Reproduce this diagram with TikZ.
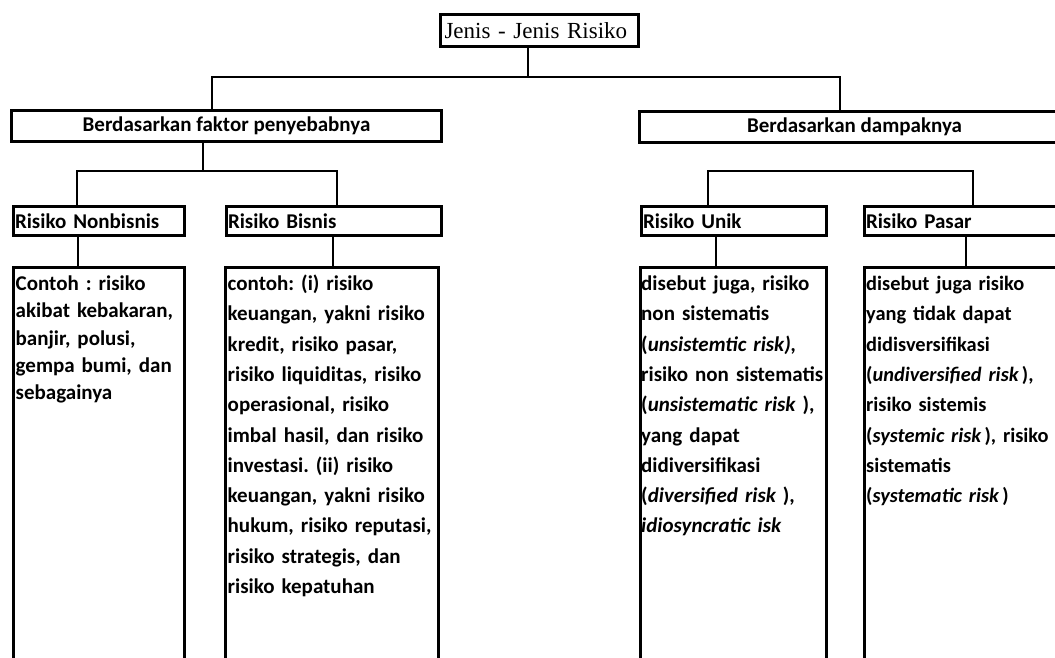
\documentclass[tikz,border=0pt]{standalone}
\usepackage{fontspec}
\setmainfont{Carlito}
\newfontfamily\titlefont{Liberation Serif}
\frenchspacing

\tikzset{
  box/.style={draw, line width=3pt, rectangle, anchor=north west, inner sep=0pt},
  titlebox/.style={box, font=\titlefont\fontsize{23}{26}\selectfont, text width=190, align=left, inner xsep=4pt, minimum height=32},
  groupbox/.style={box, font=\bfseries\fontsize{21}{24}\selectfont, minimum width=430, minimum height=31},
  headbox/.style={box, font=\bfseries\fontsize{21}{24}\selectfont, align=left, inner xsep=1.5pt, minimum height=29},
  notebox/.style={box, minimum height=440},
  note/.style={anchor=base west, inner sep=0pt, text width=240, align=left, font=\bfseries\fontsize{21}{30.3}\selectfont},
  link/.style={line width=2pt},
}
\newcommand{\en}[1]{{\itshape #1}}

\begin{document}
\begin{tikzpicture}[x=1pt,y=-1pt]
\useasboundingbox (0,0) rectangle (1055,657);
\clip (0,0) rectangle (1055,657);
\fill[white] (0,0) rectangle (1055,657);

% top
\node[titlebox] (root) at (439,13) {Jenis - Jenis Risiko};
\node[groupbox] (faktor) at (10,109) {Berdasarkan faktor penyebabnya};
\node[groupbox] (dampak) at (638,110) {Berdasarkan dampaknya};

% jenis risiko
\node[headbox, text width=168] (nonbisnis) at (12,205) {Risiko Nonbisnis};
\node[headbox, text width=212] (bisnis) at (225,205) {Risiko Bisnis};
\node[headbox, text width=182] (unik) at (640,205) {Risiko Unik};
\node[headbox, text width=212] (pasar) at (863,205) {Risiko Pasar};

% keterangan
\node[notebox, minimum width=171] (nbbox) at (12,266) {};
\node[notebox, minimum width=213] (bbox) at (224,266) {};
\node[notebox, minimum width=186] (ubox) at (639,266) {};
\node[notebox, minimum width=215] (pbox) at (863,266) {};

\node[note, font=\bfseries\fontsize{21}{27.3}\selectfont] (nbtext) at ([shift={(3.5,24.5)}]nbbox.north west)
  {Contoh : risiko\\ akibat kebakaran,\\ banjir, polusi,\\ gempa bumi, dan\\ sebagainya};
\node[note] (btext) at ([shift={(3.5,24.5)}]bbox.north west)
  {contoh: (i) risiko\\ keuangan, yakni risiko\\ kredit, risiko pasar,\\ risiko liquiditas, risiko\\
   operasional, risiko\\ imbal hasil, dan risiko\\ investasi. (ii) risiko\\ keuangan, yakni risiko\\
   hukum, risiko reputasi,\\ risiko strategis, dan\\ risiko kepatuhan};
\node[note] (utext) at ([shift={(2,24.5)}]ubox.north west)
  {disebut juga, risiko\\ non sistematis\\ (\en{unsistemtic risk),}\\ risiko non sistematis\\
   (\en{unsistematic risk} ),\\ yang dapat\\ didiversifikasi\\ (\en{diversified risk} ),\\
   \en{idiosyncratic isk}};
\node[note, font=\bfseries\fontsize{20.4}{30.3}\selectfont] (ptext) at ([shift={(3,24.5)}]pbox.north west)
  {disebut juga risiko\\ yang tidak dapat\\ didisversifikasi\\ (\en{undiversified risk}\,),\\
   risiko sistemis\\ (\en{systemic risk}\,), risiko\\ sistematis\\ (\en{systematic risk}\,)};

% garis
\coordinate (t) at (528,77);
\coordinate (tl) at (212,77);
\coordinate (tr) at (840,77);
\coordinate (l) at (203,171);
\coordinate (ll) at (77,171);
\coordinate (lr) at (337,171);
\coordinate (rl) at (708,171);
\coordinate (rr) at (973,171);
\coordinate (nb) at (78,0);
\coordinate (b) at (333,0);
\coordinate (u) at (716,0);
\coordinate (p) at (966,0);

\draw[link] (root.south -| t) -- (t);
\draw[link] (faktor.north -| tl) |- (tr) -- (dampak.north -| tr);
\draw[link] (faktor.south -| l) -- (l);
\draw[link] (nonbisnis.north -| ll) |- (lr) -- (bisnis.north -| lr);
\draw[link] (unik.north -| rl) |- (rr) -- (pasar.north -| rr);
\draw[link] (nonbisnis.south -| nb) -- (nbbox.north -| nb);
\draw[link] (bisnis.south -| b) -- (bbox.north -| b);
\draw[link] (unik.south -| u) -- (ubox.north -| u);
\draw[link] (pasar.south -| p) -- (pbox.north -| p);
\end{tikzpicture}
\end{document}
